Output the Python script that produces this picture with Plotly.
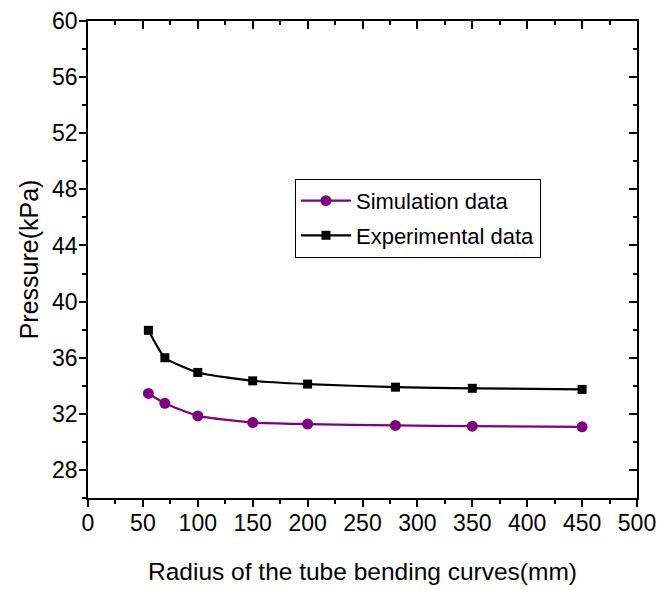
import plotly.graph_objects as go

radius = [55, 70, 100, 150, 200, 280, 350, 450]
simulation = [33.45, 32.75, 31.85, 31.38, 31.27, 31.17, 31.12, 31.07]
experimental = [37.95, 36.0, 34.95, 34.35, 34.12, 33.9, 33.82, 33.74]

x_range = [0, 500]
y_range = [26, 60]
FONT = "Liberation Sans, Arial, sans-serif"

fig = go.Figure()
fig.add_trace(go.Scatter(
    x=radius, y=simulation, name="Simulation data", mode="lines+markers",
    legendgroup="sim",
    line=dict(color="#800080", width=2.2, shape="spline", smoothing=0.5),
    marker=dict(symbol="circle", size=11, color="#800080"),
))
fig.add_trace(go.Scatter(
    x=radius, y=experimental, name="Experimental data", mode="lines+markers",
    legendgroup="exp",
    line=dict(color="black", width=2.2, shape="spline", smoothing=0.5),
    marker=dict(symbol="square", size=9, color="black"),
))
# invisible trace to hold mirror axes
fig.add_trace(go.Scatter(x=[None], y=[None], xaxis="x2", yaxis="y2",
                         showlegend=False, hoverinfo="skip"))

axis_common = dict(showgrid=False, zeroline=False, showline=True,
                   linecolor="black", linewidth=1.5, tickcolor="black",
                   tickwidth=1.5, automargin=False)

fig.update_layout(
    width=657, height=590,
    margin=dict(l=88, r=20, t=21, b=92),
    paper_bgcolor="white", plot_bgcolor="white",
    font=dict(family=FONT, color="black", size=22),
    xaxis=dict(range=x_range, dtick=50, tick0=0, ticks="outside", ticklen=7,
               tickfont=dict(size=23), ticklabelstandoff=-3,
               ticklabeloverflow="allow",
               minor=dict(dtick=25, tick0=25, ticks="outside", ticklen=4,
                          tickcolor="black", tickwidth=1.5),
               title=dict(text="Radius of the tube bending curves(mm)",
                          font=dict(size=24.5), standoff=28),
               **axis_common),
    yaxis=dict(range=y_range, dtick=4, tick0=28, ticks="outside", ticklen=7,
               tickfont=dict(size=23), ticklabelstandoff=-3,
               ticklabeloverflow="allow",
               minor=dict(dtick=4, tick0=26, ticks="outside", ticklen=4,
                          tickcolor="black", tickwidth=1.5),
               title=dict(text="Pressure(kPa)", font=dict(size=25), standoff=6),
               **axis_common),
    xaxis2=dict(range=x_range, overlaying="x", side="top", anchor="y",
                dtick=50, tick0=0, ticks="inside", ticklen=8, showticklabels=False,
                minor=dict(dtick=25, tick0=25, ticks="inside", ticklen=4,
                           tickcolor="black", tickwidth=1.5),
                **axis_common),
    yaxis2=dict(range=y_range, overlaying="y", side="right", anchor="x",
                dtick=4, tick0=28, ticks="inside", ticklen=8, showticklabels=False,
                minor=dict(dtick=4, tick0=26, ticks="inside", ticklen=4,
                           tickcolor="black", tickwidth=1.5),
                **axis_common),
    legend=dict(x=0.377, y=0.669, xanchor="left", yanchor="top",
                bordercolor="black", borderwidth=1, bgcolor="white",
                font=dict(size=22), tracegroupgap=3, itemwidth=50),
    showlegend=True,
)

# remove the default 8px page margin so the figure fills the window exactly
fig.write_html("out.html", config={"displayModeBar": False},
               post_script="document.body.style.margin='0';")
